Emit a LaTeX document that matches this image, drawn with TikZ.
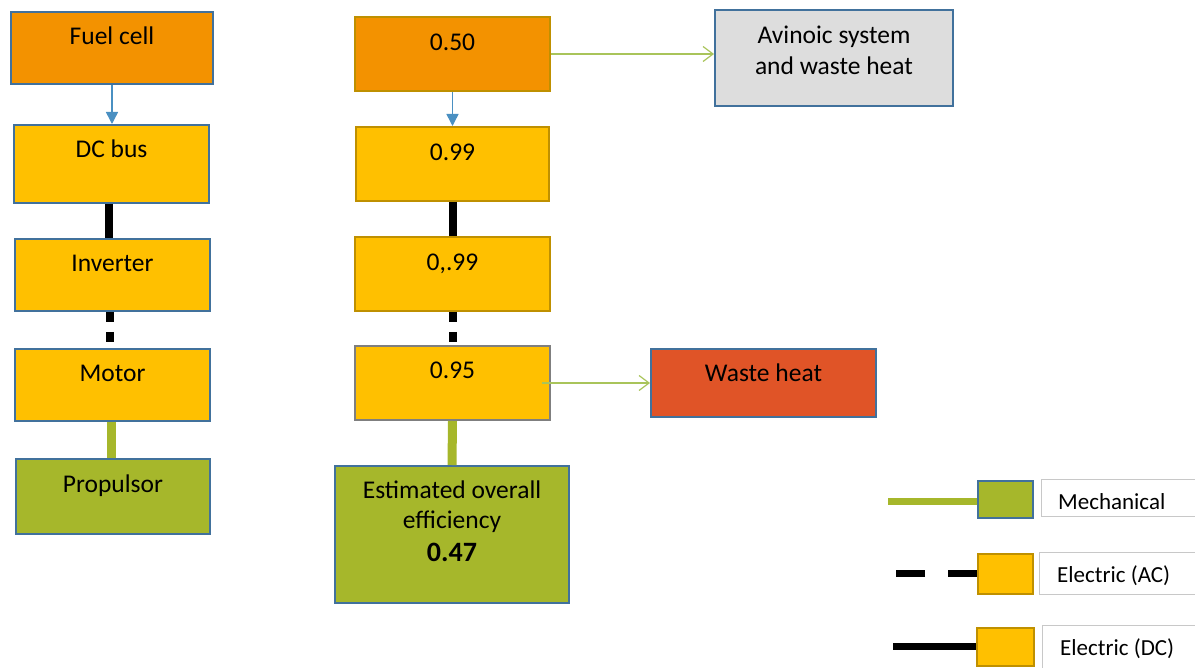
\documentclass[tikz,border=0pt]{standalone}
\usepackage{fontspec}
\setmainfont{Carlito}
\usetikzlibrary{calc,arrows.meta}
\definecolor{orng}{HTML}{F39200}
\definecolor{ylw}{HTML}{FFC000}
\definecolor{grn}{HTML}{A6B72B}
\definecolor{redo}{HTML}{E05427}
\definecolor{lgrey}{HTML}{DDDDDD}
\definecolor{bblue}{HTML}{41719C}
\definecolor{gold}{HTML}{BF9000}
\definecolor{dgrey}{HTML}{7F7F7F}
\definecolor{ablue}{HTML}{4A90C2}
\definecolor{lgreen}{HTML}{A9C45A}
\definecolor{lblgrey}{HTML}{C8C8C8}
\begin{document}
\begin{tikzpicture}[x=1pt,y=-1pt,
  box/.style={draw, line width=2pt, inner sep=0pt, anchor=north west, rectangle},
  txt/.style={anchor=base, inner sep=0pt, font=\fontsize{25.5}{30}\selectfont},
  ltxt/.style={anchor=base west, inner sep=0pt, font=\fontsize{23}{28}\selectfont},
  barrow/.style={draw=ablue, line width=1.5pt, -{Triangle[length=12pt,width=12pt]}},
  garrow/.style={draw=lgreen, line width=1.2pt, -{Straight Barb[length=10pt,width=15pt]}},
  dcline/.style={draw=black, line width=8pt},
  acline/.style={draw=black, line width=8pt, dash pattern=on 10pt off 10pt},
  mechline/.style={draw=grn, line width=9pt},
  lblbox/.style={draw=lblgrey, line width=1pt, fill=white, inner sep=0pt, anchor=north west, rectangle}
]
\useasboundingbox (0,0) rectangle (1195,668);

% left column
\node[box, fill=orng, draw=bblue, minimum width=202, minimum height=72] (fc) at (10,11) {};
\node[txt] (fct) at ($(fc.north)+(0,34)$) {Fuel cell};
\node[box, fill=ylw, draw=bblue, minimum width=195, minimum height=78] (dc) at (13,124) {};
\node[txt] (dct) at ($(dc.north)+(0,34)$) {DC bus};
\node[box, fill=ylw, draw=bblue, minimum width=195, minimum height=72] (inv) at (14,238) {};
\node[txt] (invt) at ($(inv.north)+(0,34)$) {Inverter};
\node[box, fill=ylw, draw=bblue, minimum width=195, minimum height=72] (mot) at (14,348) {};
\node[txt] (mott) at ($(mot.north)+(0,34)$) {Motor};
\node[box, fill=grn, draw=bblue, minimum width=194, minimum height=75] (prop) at (15,458) {};
\node[txt] (propt) at ($(prop.north)+(0,34)$) {Propulsor};

\draw[barrow] (fc.south) -- (fc.south |- dc.north);
\coordinate (l1) at ($(dc.south)+(-2.5,0)$);
\draw[dcline] (l1) -- (l1 |- inv.north);
\coordinate (l2) at ($(inv.south)+(-2.5,0)$);
\draw[acline] (l2) -- (l2 |- mot.north);
\coordinate (l3) at ($(mot.south)+(-1.5,0)$);
\draw[mechline] (l3) -- (l3 |- prop.north);

% middle column
\node[box, fill=orng, draw=gold, minimum width=195, minimum height=74] (e1) at (354,16) {};
\node[txt] (e1t) at ($(e1.north)+(0,35)$) {0.50};
\node[box, fill=ylw, draw=gold, minimum width=193, minimum height=74] (e2) at (355,126) {};
\node[txt] (e2t) at ($(e2.north)+(0,35)$) {0.99};
\node[box, fill=ylw, draw=gold, minimum width=195, minimum height=74] (e3) at (354,236) {};
\node[txt] (e3t) at ($(e3.north)+(0,35)$) {0,.99};
\node[box, fill=ylw, draw=dgrey, minimum width=195, minimum height=74] (e4) at (354,345) {};
\node[txt] (e4t) at ($(e4.north)+(0,34)$) {0.95};
\node[box, fill=grn, draw=bblue, minimum width=234, minimum height=137] (est) at (334,465) {};
\node[txt] (estt1) at ($(est.north)+(0,33)$) {Estimated overall};
\node[txt] (estt2) at ($(est.north)+(0,63)$) {efficiency};
\node[txt, font=\fontsize{28}{32}\selectfont\bfseries] (estt3) at ($(est.north)+(0,96)$) {0.47};

\draw[barrow] (e1.south) -- (e1.south |- e2.north);
\draw[dcline] (e2.south) -- (e2.south |- e3.north);
\draw[acline] (e3.south) -- (e3.south |- e4.north);
\draw[mechline] (e4.south) -- (est.north);

% right boxes
\node[box, fill=lgrey, draw=bblue, minimum width=238, minimum height=96] (avi) at (714,9) {};
\node[txt] (avit1) at ($(avi.north)+(0,35)$) {Avinoic system};
\node[txt] (avit2) at ($(avi.north)+(0,66)$) {and waste heat};
\node[box, fill=redo, draw=bblue, minimum width=225, minimum height=68] (wh) at (650,348) {};
\node[txt] (wht) at ($(wh.north)+(0,34)$) {Waste heat};

\coordinate (a1) at ($(e1.east)+(0,0)$);
\draw[garrow] (a1) -- (a1 -| avi.west);
\coordinate (a2) at ($(e4.east)+(-9,0)$);
\draw[garrow] (a2) -- (a2 -| wh.west);

% legend
\node[box, fill=grn, draw=bblue, minimum width=55, minimum height=37] (lmech) at (977,480) {};
\node[lblbox, minimum width=170, minimum height=37] (lmechl) at (1041,479) {};
\node[ltxt] (lmecht) at (1058,509) {Mechanical};
\coordinate (m0) at (888,501);
\draw[mechline, line width=7pt] (m0) -- (m0 -| lmech.west);

\node[box, fill=ylw, draw=gold, minimum width=55, minimum height=40] (lac) at (977,553) {};
\node[lblbox, minimum width=170, minimum height=42] (lacl) at (1039,552) {};
\node[ltxt] (lact) at (1057,582) {Electric (AC)};
\coordinate (ac0) at (896,573);
\draw[acline, line width=7pt, dash pattern=on 29pt off 23pt] (ac0 -| lac.west) -- (ac0);

\node[box, fill=ylw, draw=gold, minimum width=57, minimum height=38] (ldc) at (976,627) {};
\node[lblbox, minimum width=170, minimum height=50] (ldcl) at (1042,625) {};
\node[ltxt] (ldct) at (1060,655) {Electric (DC)};
\coordinate (dc0) at (893,646);
\draw[dcline, line width=7pt] (dc0) -- (dc0 -| ldc.west);
\end{tikzpicture}
\end{document}
